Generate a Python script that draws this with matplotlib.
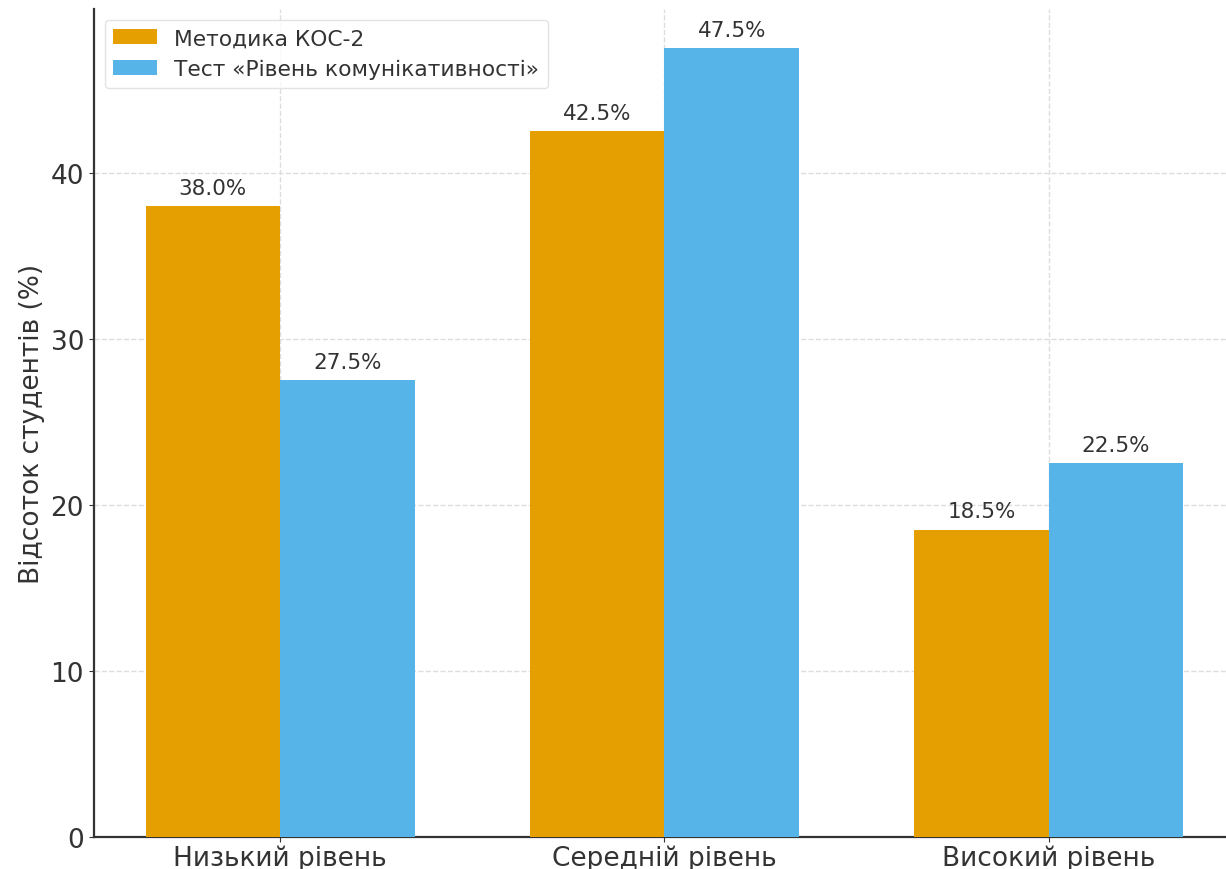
import matplotlib.pyplot as plt
import numpy as np

categories = ["Низький рівень", "Середній рівень", "Високий рівень"]
kos2 = [38.0, 42.5, 18.5]
komun = [27.5, 47.5, 22.5]
series_names = ["Методика КОС-2", "Тест «Рівень комунікативності»"]

plt.rcParams["font.family"] = ["DejaVu Sans"]
text_color = "#333333"

fig = plt.figure(figsize=(12.26, 8.7), dpi=100)
ax = fig.add_axes([0.0765, 0.0368, 0.931, 0.952])

x = np.arange(len(categories))
width = 0.35
b1 = ax.bar(x - width / 2, kos2, width, color="#E69F00", label=series_names[0], zorder=3)
b2 = ax.bar(x + width / 2, komun, width, color="#56B4E9", label=series_names[1], zorder=3)

for bars in (b1, b2):
    for bar in bars:
        h = bar.get_height()
        ax.annotate(f"{h:.1f}%", (bar.get_x() + bar.get_width() / 2, h),
                    xytext=(0, 6), textcoords="offset points",
                    ha="center", va="bottom", fontsize=15.5, color=text_color)

ax.set_xticks(x)
ax.set_xticklabels(categories, fontsize=19, color=text_color)
ax.set_yticks([0, 10, 20, 30, 40])
ax.tick_params(axis="y", labelsize=19, labelcolor=text_color, color=text_color)
ax.tick_params(axis="x", color=text_color, pad=2)
ax.set_ylabel("Відсоток студентів (%)", fontsize=19, color=text_color)

ax.grid(True, linestyle="--", color="#dddddd", linewidth=1, zorder=0)
for side in ("top", "right"):
    ax.spines[side].set_visible(False)
for side in ("left", "bottom"):
    ax.spines[side].set_color(text_color)
    ax.spines[side].set_linewidth(1.6)

ax.legend(loc="upper left", fontsize=15.7, frameon=True, edgecolor="#dddddd",
          labelcolor=text_color)

fig.savefig("out.png", dpi=100)
